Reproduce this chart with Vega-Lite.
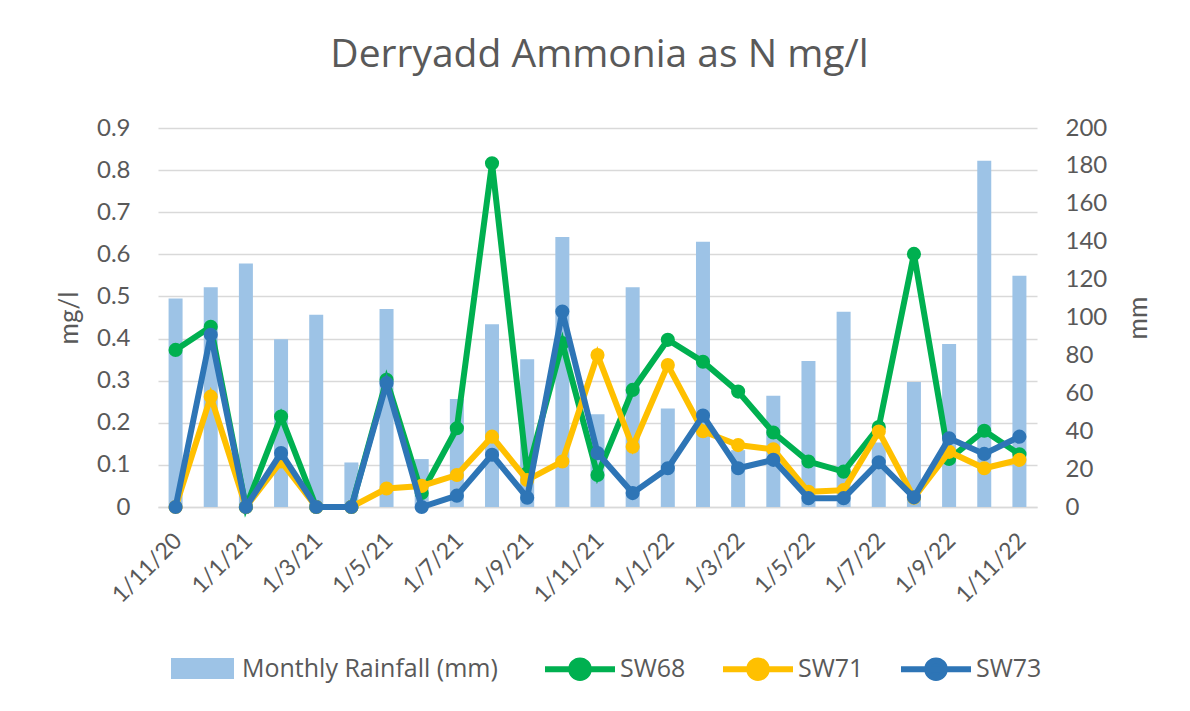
{
  "$schema": "https://vega.github.io/schema/vega-lite/v6.json",
  "width": 879,
  "height": 379,
  "autosize": {"type": "none"},
  "padding": {"left": 158, "top": 128, "right": 153, "bottom": 204},
  "background": "white",
  "title": {"text": "Derryadd Ammonia as N mg/l", "frame": "group", "anchor": "middle", "baseline": "alphabetic", "offset": 10, "fontSize": 39, "font": "Open Sans", "fontWeight": "normal", "color": "#595959", "dx": 2},
  "data": {"values": [
    {"month": "1/11/20", "rain": 110, "SW68": 0.373, "SW71": 0, "SW73": 0},
    {"month": "1/12/20", "rain": 116, "SW68": 0.428, "SW71": 0.262, "SW73": 0.409},
    {"month": "1/1/21", "rain": 128.5, "SW68": 0, "SW71": 0, "SW73": 0},
    {"month": "1/2/21", "rain": 88.5, "SW68": 0.215, "SW71": 0.108, "SW73": 0.128},
    {"month": "1/3/21", "rain": 101.5, "SW68": 0, "SW71": 0, "SW73": 0},
    {"month": "1/4/21", "rain": 23.5, "SW68": 0, "SW71": 0, "SW73": 0},
    {"month": "1/5/21", "rain": 104.5, "SW68": 0.302, "SW71": 0.044, "SW73": 0.294},
    {"month": "1/6/21", "rain": 25.3, "SW68": 0.033, "SW71": 0.05, "SW73": 0},
    {"month": "1/7/21", "rain": 57, "SW68": 0.187, "SW71": 0.076, "SW73": 0.027},
    {"month": "1/8/21", "rain": 96.5, "SW68": 0.816, "SW71": 0.167, "SW73": 0.124},
    {"month": "1/9/21", "rain": 78, "SW68": 0.08, "SW71": 0.064, "SW73": 0.022},
    {"month": "1/10/21", "rain": 142.5, "SW68": 0.389, "SW71": 0.108, "SW73": 0.464},
    {"month": "1/11/21", "rain": 49, "SW68": 0.076, "SW71": 0.361, "SW73": 0.128},
    {"month": "1/12/21", "rain": 116, "SW68": 0.278, "SW71": 0.143, "SW73": 0.033},
    {"month": "1/1/22", "rain": 52, "SW68": 0.397, "SW71": 0.337, "SW73": 0.092},
    {"month": "1/2/22", "rain": 140, "SW68": 0.345, "SW71": 0.18, "SW73": 0.217},
    {"month": "1/3/22", "rain": 30, "SW68": 0.274, "SW71": 0.147, "SW73": 0.092},
    {"month": "1/4/22", "rain": 58.7, "SW68": 0.177, "SW71": 0.137, "SW73": 0.112},
    {"month": "1/5/22", "rain": 77, "SW68": 0.108, "SW71": 0.036, "SW73": 0.021},
    {"month": "1/6/22", "rain": 103, "SW68": 0.084, "SW71": 0.04, "SW73": 0.021},
    {"month": "1/7/22", "rain": 34, "SW68": 0.19, "SW71": 0.179, "SW73": 0.106},
    {"month": "1/8/22", "rain": 66, "SW68": 0.601, "SW71": 0.022, "SW73": 0.023},
    {"month": "1/9/22", "rain": 86, "SW68": 0.114, "SW71": 0.131, "SW73": 0.163},
    {"month": "1/10/22", "rain": 182.7, "SW68": 0.181, "SW71": 0.092, "SW73": 0.126},
    {"month": "1/11/22", "rain": 122, "SW68": 0.125, "SW71": 0.112, "SW73": 0.167}
  ]},
  "layer": [
    {
      "mark": {"type": "bar", "width": 14, "color": "#9DC3E6"},
      "encoding": {
        "x": {"field": "month", "type": "ordinal", "sort": null,
              "scale": {"domain": ["1/11/20","1/12/20","1/1/21","1/2/21","1/3/21","1/4/21","1/5/21","1/6/21","1/7/21","1/8/21","1/9/21","1/10/21","1/11/21","1/12/21","1/1/22","1/2/22","1/3/22","1/4/22","1/5/22","1/6/22","1/7/22","1/8/22","1/9/22","1/10/22","1/11/22"], "paddingInner": 0, "paddingOuter": 0},
              "axis": {"title": null, "values": ["1/11/20","1/1/21","1/3/21","1/5/21","1/7/21","1/9/21","1/11/21","1/1/22","1/3/22","1/5/22","1/7/22","1/9/22","1/11/22"]}},
        "y": {"field": "rain", "type": "quantitative", "scale": {"domain": [0, 200]},
              "axis": {"orient": "right", "title": "mm", "values": [0,20,40,60,80,100,120,140,160,180,200], "grid": false, "labelPadding": 28, "titlePadding": 45, "titleAngle": 270}},
        "fill": {"datum": "Monthly Rainfall (mm)", "type": "nominal", "scale": {"range": ["#9DC3E6"]},
                 "legend": {"orient": "none", "legendX": 13, "legendY": 509, "title": null, "symbolType": "M-1,-0.33H1V0.33H-1Z", "symbolSize": 3969, "symbolStrokeWidth": 0, "symbolOpacity": 1, "labelOffset": 8}}
      }
    },
    {
      "transform": [{"fold": ["SW68", "SW71", "SW73"], "as": ["series", "value"]}],
      "encoding": {
        "x": {"field": "month", "type": "ordinal", "sort": null},
        "y": {"field": "value", "type": "quantitative", "scale": {"domain": [0, 0.9]},
              "axis": {"orient": "left", "title": "mg/l", "format": ".1~f", "values": [0,0.1,0.2,0.3,0.4,0.5,0.6,0.7,0.8,0.9], "grid": true, "labelPadding": 28, "titlePadding": 14}},
        "color": {"field": "series", "type": "nominal",
                  "scale": {"domain": ["SW68", "SW71", "SW73"], "range": ["#00B050", "#FFC000", "#2E75B6"]},
                  "legend": {"orient": "none", "direction": "horizontal", "legendX": 384, "legendY": 503, "title": null,
                             "symbolType": "M-1,0H1M0.25,0A0.25,0.25 0 1,1 -0.25,0A0.25,0.25 0 1,1 0.25,0Z",
                             "symbolSize": 4900, "symbolStrokeWidth": 6, "labelOffset": 2, "columnPadding": 25,
                             "encode": {"symbols": {"update": {"fill": {"scale": "color", "field": "value"}}}}}}
      },
      "layer": [
        {"transform": [{"filter": "datum.series === 'SW68'"}], "mark": {"type": "line", "strokeWidth": 6, "point": {"filled": true, "size": 200}}},
        {"transform": [{"filter": "datum.series === 'SW71'"}], "mark": {"type": "line", "strokeWidth": 6, "point": {"filled": true, "size": 200}}},
        {"transform": [{"filter": "datum.series === 'SW73'"}], "mark": {"type": "line", "strokeWidth": 6, "point": {"filled": true, "size": 200}}}
      ]
    }
  ],
  "resolve": {"scale": {"y": "independent"}},
  "config": {
    "font": "Lato",
    "view": {"stroke": null},
    "axis": {"labelColor": "#595959", "titleColor": "#595959", "labelFontSize": 24, "titleFontSize": 26, "titleFontWeight": "normal", "ticks": false, "domain": false, "gridColor": "#D9D9D9", "gridWidth": 1.5, "labelFont": "Lato", "titleFont": "Lato"},
    "axisX": {"domain": true, "domainColor": "#D9D9D9", "domainWidth": 1.5, "labelAngle": -45, "labelPadding": 22, "grid": false, "labelFontSize": 23, "labelOffset": -5},
    "legend": {"labelColor": "#595959", "labelFontSize": 25, "labelFont": "Open Sans", "labelLimit": 400}
  }
}
